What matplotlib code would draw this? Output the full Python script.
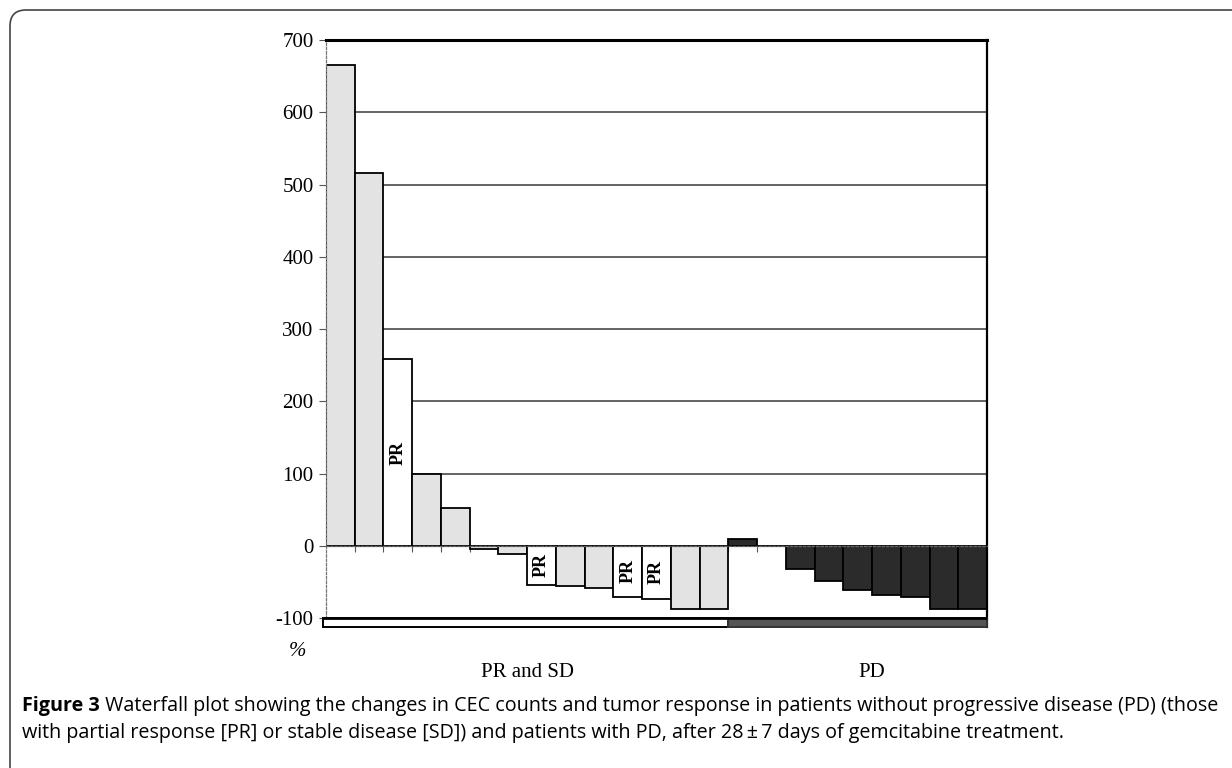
import matplotlib
matplotlib.use("Agg")
import matplotlib.pyplot as plt
import matplotlib.patches as patches
from matplotlib.transforms import IdentityTransform
import numpy as np

plt.rcParams['axes.unicode_minus'] = False

# % change in CEC counts per patient, sorted within each group
values = [665, 516, 258, 99, 52, -4, -11, -54, -56, -58, -71, -74, -88, -88,
          10, -1, -32, -49, -61, -68, -71, -87, -87]
response = ['SD', 'SD', 'PR', 'SD', 'SD', 'SD', 'SD', 'PR', 'SD', 'SD', 'PR', 'PR', 'SD', 'SD',
            'PD', 'PD', 'PD', 'PD', 'PD', 'PD', 'PD', 'PD', 'PD']
groups = ['PR and SD', 'PD']
group_sizes = [14, 9]
yticks = [700, 600, 500, 400, 300, 200, 100, 0, -100]

caption_bold = "Figure 3"
caption_line1 = (" Waterfall plot showing the changes in CEC counts and tumor response in patients "
                 "without progressive disease (PD) (those")
caption_line2 = ("with partial response [PR] or stable disease [SD]) and patients with PD, "
                 "after 28\u2009\u00b1\u20097 days of gemcitabine treatment.")

fill = {'SD': '#e3e3e3', 'PR': 'white', 'PD': '#2b2b2b'}
serif = 'Liberation Serif'

fig = plt.figure(figsize=(12.32, 7.68), dpi=100)
W, H = 1232, 768
ax = fig.add_axes([326 / W, 1 - 627.4 / H, (987 - 326) / W, (627.4 - 40) / H])

x = np.arange(len(values))
ax.set_xlim(-0.5, len(values) - 0.5)
ax.set_ylim(-113, 700)

# grid lines behind the bars
ax.hlines([t for t in yticks if 0 < t < 700], -0.5, len(values) - 0.5,
          color='#3a3a3a', lw=1.1, zorder=0)

colors = [fill[r] for r in response]
ax.bar(x, values, width=1.0, color=colors, edgecolor='black', linewidth=1.3, zorder=2)

for xi, v, r in zip(x, values, response):
    if r == 'PR':
        ax.text(xi, v / 2, 'PR', rotation=90, ha='center', va='center',
                fontsize=13, fontweight='bold', family=serif, zorder=3)

# bottom strip marking the two groups
n1 = group_sizes[0]
ax.add_patch(patches.Rectangle((-0.62, -112), n1 + 0.12, 12, facecolor='white',
                               edgecolor='black', lw=1.4, clip_on=False, zorder=3))
ax.add_patch(patches.Rectangle((n1 - 0.5, -112), group_sizes[1], 12, facecolor='#555555',
                               edgecolor='#333333', lw=1.4, clip_on=False, zorder=3))
ax.hlines(-100, -0.62, len(values) - 0.5, color='black', lw=2, zorder=4, clip_on=False)

# group labels
start = 0
for g, n in zip(groups, group_sizes):
    cx = start + (n - 1) / 2 + (0.5 if g == 'PD' else 0)
    ax.text(cx, -176, g, ha='center', va='center', fontsize=15, family=serif)
    start += n

# axes styling
ax.set_yticks(yticks)
ax.set_yticklabels([str(t) for t in yticks], family=serif, fontsize=15)
ax.tick_params(axis='y', length=5, width=0.8, color='#555555', pad=4)
ax.set_xticks(x[:-1] + 0.5)
ax.set_xticklabels([])
ax.tick_params(axis='x', direction='out', length=4, width=0.8, color='#555555')

ax.spines['bottom'].set_position(('data', 0))
ax.spines['bottom'].set_linestyle((0, (2, 1.5)))
ax.spines['bottom'].set_color('#666666')
ax.spines['bottom'].set_linewidth(0.9)
ax.spines['left'].set_linestyle((0, (2, 1.5)))
ax.spines['left'].set_color('#777777')
ax.spines['left'].set_linewidth(0.9)
ax.spines['left'].set_bounds(-100, 700)
ax.spines['top'].set_linewidth(2.2)
ax.spines['right'].set_linewidth(1.6)
ax.spines['right'].set_bounds(-112, 700)
ax.patch.set_alpha(0)

fig.text(298 / W, 1 - 652 / H, '%', ha='center', va='center', fontsize=15,
         family=serif, style='italic')

# outer rounded frame (open to the right and bottom)
frame = patches.FancyBboxPatch((10, -60), 1400, H - 10 + 60,
                               boxstyle="round,pad=0,rounding_size=16",
                               transform=IdentityTransform(), facecolor='none',
                               edgecolor='#444444', lw=1.2)
fig.patches.append(frame)

# caption
cap_font = dict(fontsize=14.25, family='Open Sans', va='center', ha='left')
t0 = fig.text(22 / W, 1 - 706 / H, caption_bold, fontweight='bold', **cap_font)
fig.canvas.draw()
bb = t0.get_window_extent()
fig.text(bb.x1 / W, 1 - 706 / H, caption_line1, **cap_font)
fig.text(22 / W, 1 - 733 / H, caption_line2, **cap_font)

fig.savefig('out.png', dpi=100)
